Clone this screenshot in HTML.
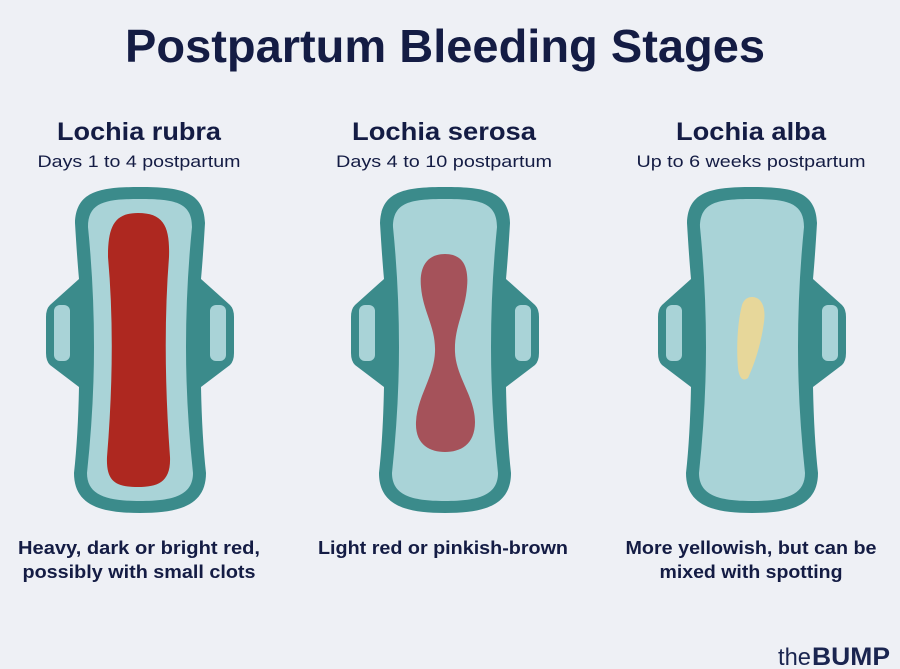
<!DOCTYPE html>
<html><head><meta charset="utf-8"><style>
html,body{margin:0;padding:0;background:#eef0f5;}
svg{display:block;}
text{font-family:"Liberation Sans",Arial,sans-serif;fill:#141c44;}
</style></head><body>
<svg width="900" height="669" viewBox="0 0 900 669" xmlns="http://www.w3.org/2000/svg">
<rect width="900" height="669" fill="#eef0f5"/>
<defs>
<g id="pad">
<path d="M0,0 C40,0 64,4 65,36 Q63,70 61,92 L90,118 Q94,122 94,130 L94,166 Q94,174 90,178 L61,200 Q62,250 66,286 C66,318 40,326 0,326 C-40,326 -66,318 -66,286 Q-62,250 -61,200 L-90,178 Q-94,174 -94,166 L-94,130 Q-94,122 -90,118 L-61,92 Q-63,70 -65,36 C-64,4 -40,0 0,0 Z" fill="#3b8b8b"/>
<path d="M0,12 C34,12 52,15 52,40 Q46,100 46,160 Q46,220 53,286 C53,308 34,314 0,314 C-34,314 -53,308 -53,286 Q-46,220 -46,160 Q-46,100 -52,40 C-52,15 -34,12 0,12 Z" fill="#a9d3d7"/>
<rect x="-86" y="118" width="16" height="56" rx="6" fill="#a9d3d7"/>
<rect x="70" y="118" width="16" height="56" rx="6" fill="#a9d3d7"/>
</g>
</defs>
<text x="445" y="62" font-size="46" font-weight="bold" text-anchor="middle" textLength="640" lengthAdjust="spacingAndGlyphs">Postpartum Bleeding Stages</text>

<text x="139" y="140" font-size="25" font-weight="bold" text-anchor="middle" textLength="164" lengthAdjust="spacingAndGlyphs">Lochia rubra</text>
<text x="139" y="167" font-size="17" text-anchor="middle" textLength="203" lengthAdjust="spacingAndGlyphs">Days 1 to 4 postpartum</text>
<text x="444" y="140" font-size="25" font-weight="bold" text-anchor="middle" textLength="184" lengthAdjust="spacingAndGlyphs">Lochia serosa</text>
<text x="444" y="167" font-size="17" text-anchor="middle" textLength="216" lengthAdjust="spacingAndGlyphs">Days 4 to 10 postpartum</text>
<text x="751" y="140" font-size="25" font-weight="bold" text-anchor="middle" textLength="150" lengthAdjust="spacingAndGlyphs">Lochia alba</text>
<text x="751" y="167" font-size="17" text-anchor="middle" textLength="229" lengthAdjust="spacingAndGlyphs">Up to 6 weeks postpartum</text>

<use href="#pad" transform="translate(140,187)"/>
<use href="#pad" transform="translate(445,187)"/>
<use href="#pad" transform="translate(752,187)"/>

<path transform="translate(140,187)" d="M-2,26 C24,26 30,40 29,70 Q22,160 30,270 C31,295 18,300 -2,300 C-24,300 -34,295 -33,270 Q-24,160 -32,70 C-32,40 -26,26 -2,26 Z" fill="#ae2820"/>
<path transform="translate(445,187)" d="M0,67 C18,67 24,80 22,100 C20,125 9,140 10,165 C11,190 30,210 30,235 C30,258 15,265 0,265 C-15,265 -30,258 -29,235 C-28,210 -11,190 -10,165 C-9,140 -22,125 -24,100 C-26,80 -18,67 0,67 Z" fill="#a5525a"/>
<path d="M752,297 C762,297 766,308 764,322 C761,345 754,365 748,378 C743,382 739,378 738,368 C736,345 738,320 742,305 C744,299 748,297 752,297 Z" fill="#e7d79a"/>

<text x="139" y="554" font-size="18" font-weight="bold" text-anchor="middle" textLength="242" lengthAdjust="spacingAndGlyphs">Heavy, dark or bright red,</text>
<text x="139" y="578" font-size="18" font-weight="bold" text-anchor="middle" textLength="233" lengthAdjust="spacingAndGlyphs">possibly with small clots</text>
<text x="443" y="554" font-size="18" font-weight="bold" text-anchor="middle" textLength="250" lengthAdjust="spacingAndGlyphs">Light red or pinkish-brown</text>
<text x="751" y="554" font-size="18" font-weight="bold" text-anchor="middle" textLength="251" lengthAdjust="spacingAndGlyphs">More yellowish, but can be</text>
<text x="751" y="578" font-size="18" font-weight="bold" text-anchor="middle" textLength="183" lengthAdjust="spacingAndGlyphs">mixed with spotting</text>

<text x="778" y="665" font-size="24" style="fill:#1a2550" textLength="33" lengthAdjust="spacingAndGlyphs">the</text>
<text x="812" y="665" font-size="25" font-weight="bold" style="fill:#1a2550" textLength="78" lengthAdjust="spacingAndGlyphs">BUMP</text>
</svg>
</body></html>
